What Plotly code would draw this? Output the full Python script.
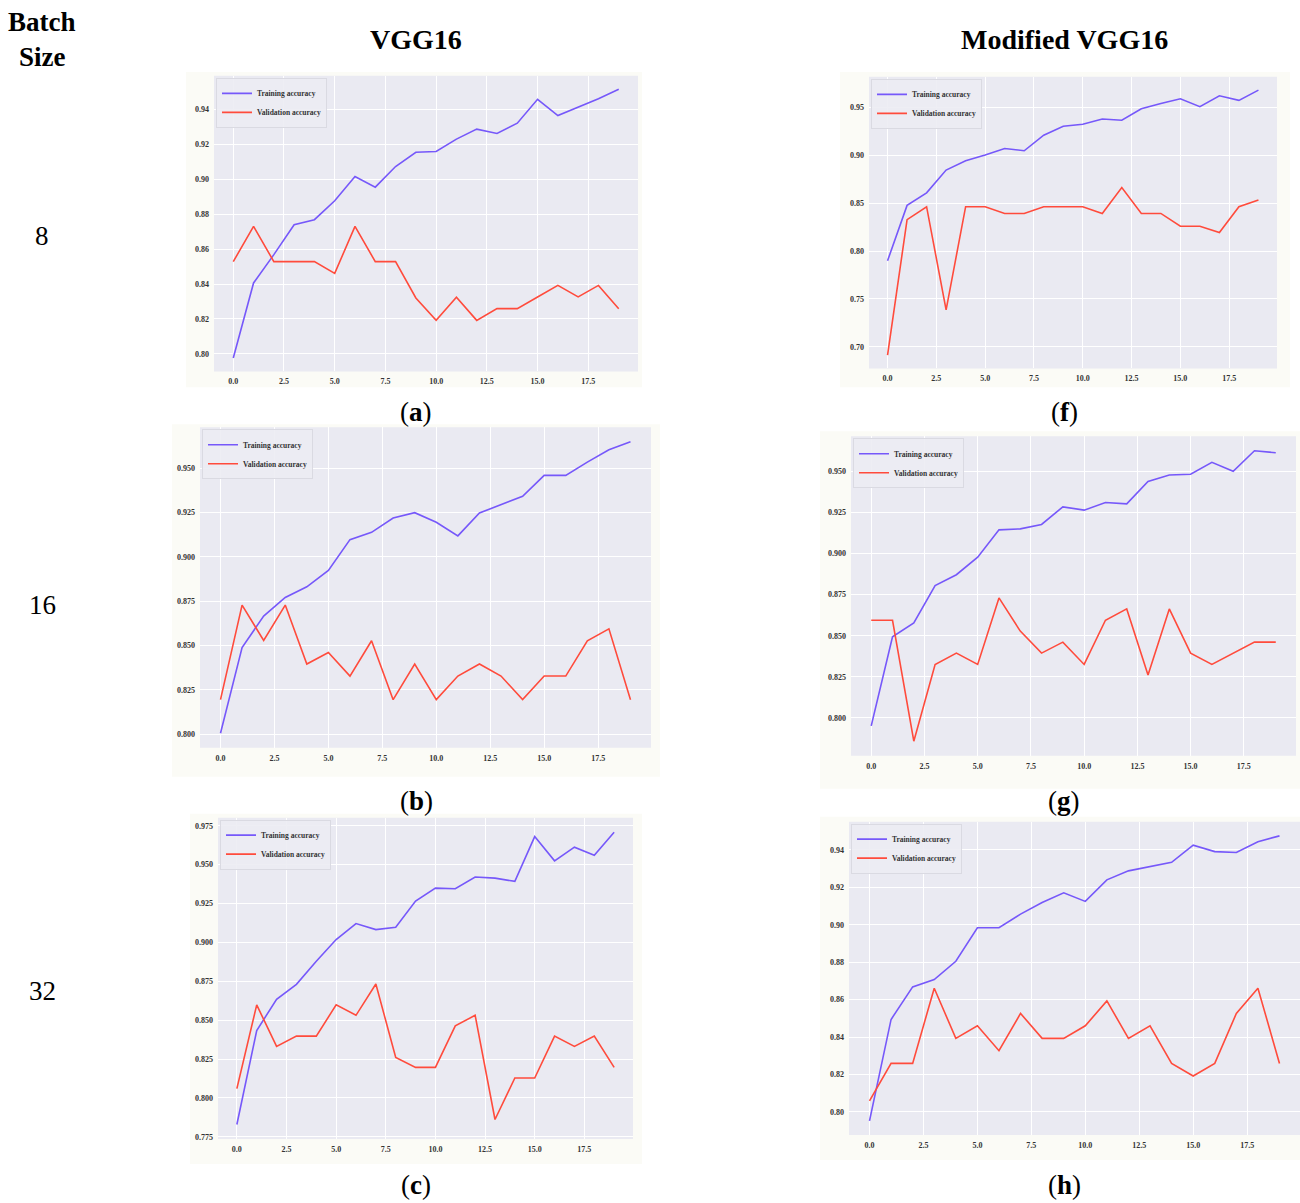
import plotly.graph_objects as go

# ---- data -------------------------------------------------------------
epochs = list(range(20))

x_tick_vals = [0, 2.5, 5, 7.5, 10, 12.5, 15, 17.5]
x_tick_text = ["0.0", "2.5", "5.0", "7.5", "10.0", "12.5", "15.0", "17.5"]

# VGG16, batch size 8  (a)
vgg16_bs8_train = [0.7977, 0.8406, 0.8568, 0.8739, 0.8768, 0.8876, 0.9015, 0.8954, 0.9072, 0.9154,
                   0.9158, 0.9229, 0.9286, 0.9261, 0.9320, 0.9457, 0.9364, 0.9410, 0.9460, 0.9514]
vgg16_bs8_val = [0.8528, 0.8730, 0.8528, 0.8528, 0.8528, 0.8461, 0.8730, 0.8528, 0.8528, 0.8320,
                 0.8192, 0.8324, 0.8192, 0.8259, 0.8259, 0.8326, 0.8392, 0.8326, 0.8392, 0.8259]

# Modified VGG16, batch size 8  (f)
mod_bs8_train = [0.7899, 0.8477, 0.8608, 0.8846, 0.8943, 0.9002, 0.9071, 0.9047, 0.9210, 0.9303,
                 0.9324, 0.9379, 0.9365, 0.9486, 0.9541, 0.9590, 0.9507, 0.9621, 0.9573, 0.9680]
mod_bs8_val = [0.6914, 0.8328, 0.8463, 0.7387, 0.8463, 0.8463, 0.8393, 0.8393, 0.8463, 0.8463,
               0.8463, 0.8393, 0.8663, 0.8393, 0.8393, 0.8259, 0.8259, 0.8193, 0.8463, 0.8532]

# VGG16, batch size 16  (b)
vgg16_bs16_train = [0.8006, 0.8489, 0.8666, 0.8771, 0.8831, 0.8923, 0.9097, 0.9138, 0.9219, 0.9249,
                    0.9195, 0.9118, 0.9247, 0.9294, 0.9341, 0.9459, 0.9459, 0.9534, 0.9603, 0.9648]
vgg16_bs16_val = [0.8195, 0.8728, 0.8529, 0.8728, 0.8396, 0.8461, 0.8328, 0.8527, 0.8195, 0.8396,
                  0.8195, 0.8328, 0.8396, 0.8328, 0.8195, 0.8328, 0.8328, 0.8527, 0.8594, 0.8195]

# Modified VGG16, batch size 16  (g)
mod_bs16_train = [0.7951, 0.8493, 0.8578, 0.8805, 0.8871, 0.8978, 0.9144, 0.9150, 0.9177, 0.9284,
                  0.9264, 0.9310, 0.9302, 0.9438, 0.9478, 0.9482, 0.9555, 0.9500, 0.9625, 0.9613]
mod_bs16_val = [0.8594, 0.8594, 0.7858, 0.8325, 0.8394, 0.8325, 0.8730, 0.8528, 0.8394, 0.8461,
                0.8325, 0.8594, 0.8663, 0.8261, 0.8663, 0.8394, 0.8325, 0.8394, 0.8461, 0.8461]

# VGG16, batch size 32  (c)
vgg16_bs32_train = [0.7829, 0.8433, 0.8634, 0.8730, 0.8879, 0.9018, 0.9121, 0.9082, 0.9097, 0.9266,
                    0.9349, 0.9345, 0.9420, 0.9413, 0.9392, 0.9680, 0.9524, 0.9612, 0.9560, 0.9708]
vgg16_bs32_val = [0.8060, 0.8598, 0.8331, 0.8397, 0.8397, 0.8598, 0.8531, 0.8732, 0.8260, 0.8196,
                  0.8196, 0.8463, 0.8531, 0.7861, 0.8128, 0.8128, 0.8397, 0.8331, 0.8397, 0.8196]

# Modified VGG16, batch size 32  (h)
mod_bs32_train = [0.7952, 0.8494, 0.8668, 0.8707, 0.8805, 0.8984, 0.8984, 0.9057, 0.9119, 0.9171,
                  0.9125, 0.9240, 0.9288, 0.9313, 0.9334, 0.9425, 0.9391, 0.9386, 0.9444, 0.9475]
mod_bs32_val = [0.8059, 0.8259, 0.8259, 0.8661, 0.8393, 0.8460, 0.8327, 0.8526, 0.8393, 0.8393,
                0.8460, 0.8593, 0.8393, 0.8460, 0.8259, 0.8192, 0.8259, 0.8526, 0.8661, 0.8259]

row_labels = ["8", "16", "32"]
column_titles = ["VGG16", "Modified VGG16"]
panel_letters = ["a", "f", "b", "g", "c", "h"]

# ---- layout constants -------------------------------------------------
W, H = 1300, 1203
SERIF = "Liberation Serif"
TRAIN_COLOR = "#7658FA"
VAL_COLOR = "#FF4B3C"
AXES_BG = "#EAEAF2"
FIG_BG = "#FBFBF6"

# plot-area boxes (left, top, right, bottom) in pixels, plus outer figure box
panels = [
    dict(train=vgg16_bs8_train, val=vgg16_bs8_val, box=(214, 76, 638, 372),
         outer=(186, 72, 642, 388), dtick=0.02, fmt=".2f", tick0=0.80),
    dict(train=mod_bs8_train, val=mod_bs8_val, box=(869, 77, 1277, 369),
         outer=(840, 72, 1290, 388), dtick=0.05, fmt=".2f", tick0=0.70),
    dict(train=vgg16_bs16_train, val=vgg16_bs16_val, box=(200, 428, 651, 749),
         outer=(172, 425, 660, 778), dtick=0.025, fmt=".3f", tick0=0.800),
    dict(train=mod_bs16_train, val=mod_bs16_val, box=(851, 437, 1296, 757),
         outer=(820, 432, 1300, 790), dtick=0.025, fmt=".3f", tick0=0.800),
    dict(train=vgg16_bs32_train, val=vgg16_bs32_val, box=(218, 819, 633, 1141),
         outer=(190, 815, 642, 1166), dtick=0.025, fmt=".3f", tick0=0.775),
    dict(train=mod_bs32_train, val=mod_bs32_val, box=(849, 823, 1300, 1137),
         outer=(820, 818, 1300, 1162), dtick=0.02, fmt=".2f", tick0=0.80),
]


def px_x(v):
    return v / W


def px_y(v):
    return 1 - v / H


fig = go.Figure()
shapes = []
annotations = []

for i, p in enumerate(panels):
    n = i + 1
    xa = "xaxis" if n == 1 else f"xaxis{n}"
    ya = "yaxis" if n == 1 else f"yaxis{n}"
    xref = "x" if n == 1 else f"x{n}"
    yref = "y" if n == 1 else f"y{n}"
    leg = "legend" if n == 1 else f"legend{n}"

    fig.add_trace(go.Scatter(x=epochs, y=p["train"], mode="lines", name="Training accuracy",
                             line=dict(color=TRAIN_COLOR, width=1.6),
                             xaxis=xref, yaxis=yref, legend=leg))
    fig.add_trace(go.Scatter(x=epochs, y=p["val"], mode="lines", name="Validation accuracy",
                             line=dict(color=VAL_COLOR, width=1.6),
                             xaxis=xref, yaxis=yref, legend=leg))

    # matplotlib-style 5% padding around the data
    all_y = p["train"] + p["val"]
    lo, hi = min(all_y), max(all_y)
    pad = 0.05 * (hi - lo)
    y_range = [lo - pad, hi + pad]
    x_pad = 0.05 * (epochs[-1] - epochs[0])
    x_range = [epochs[0] - x_pad, epochs[-1] + x_pad]

    l, t, r, b = p["box"]
    tick_font = dict(family=SERIF, size=8, color="#333333", weight="bold")
    fig.update_layout({
        xa: dict(domain=[px_x(l), px_x(r)], range=x_range, anchor=yref,
                 tickvals=x_tick_vals, ticktext=x_tick_text, tickfont=tick_font,
                 showgrid=True, gridcolor="white", gridwidth=1, zeroline=False,
                 showline=False, ticks="", ticklabelstandoff=4, fixedrange=True),
        ya: dict(domain=[px_y(b), px_y(t)], range=y_range, anchor=xref,
                 tick0=p["tick0"], dtick=p["dtick"], tickformat=p["fmt"], tickfont=tick_font,
                 showgrid=True, gridcolor="white", gridwidth=1, zeroline=False,
                 showline=False, ticks="", ticklabelstandoff=4, fixedrange=True),
        leg: dict(x=px_x(l + 2), y=px_y(t + 2), xanchor="left", yanchor="top",
                  xref="paper", yref="paper",
                  bgcolor="rgba(236,236,243,0.9)", bordercolor="#DADAE2", borderwidth=1,
                  font=dict(family=SERIF, size=7.5, color="#333333", weight="bold"),
                  tracegroupgap=0, itemwidth=30),
    })

    # axes background and surrounding figure area
    ol, ot, orr, ob = p["outer"]
    shapes.append(dict(type="rect", xref="paper", yref="paper", layer="below",
                       x0=px_x(ol), x1=px_x(orr), y0=px_y(ob), y1=px_y(ot),
                       fillcolor=FIG_BG, line=dict(width=0)))
    shapes.append(dict(type="rect", xref="paper", yref="paper", layer="below",
                       x0=px_x(l), x1=px_x(r), y0=px_y(b), y1=px_y(t),
                       fillcolor=AXES_BG, line=dict(width=0)))

    # panel caption, e.g. "(a)"
    cx = 416 if i % 2 == 0 else 1064
    cy = [413, 413, 802, 802, 1187, 1187][i]
    annotations.append(dict(text=f"(<b>{panel_letters[i]}</b>)", x=px_x(cx), y=px_y(cy),
                            xref="paper", yref="paper", showarrow=False,
                            xanchor="center", yanchor="middle",
                            font=dict(family=SERIF, size=27, color="black")))

# column headers and the batch-size row labels
header_font = dict(family=SERIF, size=27, color="black", weight="bold")
title_font = dict(family=SERIF, size=28, color="black", weight="bold")
annotations.append(dict(text="Batch", x=px_x(42), y=px_y(22), xref="paper", yref="paper",
                        showarrow=False, xanchor="center", yanchor="middle", font=header_font))
annotations.append(dict(text="Size", x=px_x(42), y=px_y(57), xref="paper", yref="paper",
                        showarrow=False, xanchor="center", yanchor="middle", font=header_font))
for title, cx in zip(column_titles, [416, 1064]):
    annotations.append(dict(text=title, x=px_x(cx), y=px_y(40), xref="paper", yref="paper",
                            showarrow=False, xanchor="center", yanchor="middle", font=title_font))
for label, cy in zip(row_labels, [236, 606, 993]):
    annotations.append(dict(text=label, x=px_x(42), y=px_y(cy), xref="paper", yref="paper",
                            showarrow=False, xanchor="center", yanchor="middle",
                            font=dict(family=SERIF, size=27, color="black")))

fig.update_layout(
    width=W, height=H,
    margin=dict(l=0, r=0, t=0, b=0),
    paper_bgcolor="white",
    plot_bgcolor="rgba(0,0,0,0)",
    shapes=shapes,
    annotations=annotations,
    showlegend=True,
)

fig.write_html("out.html")
